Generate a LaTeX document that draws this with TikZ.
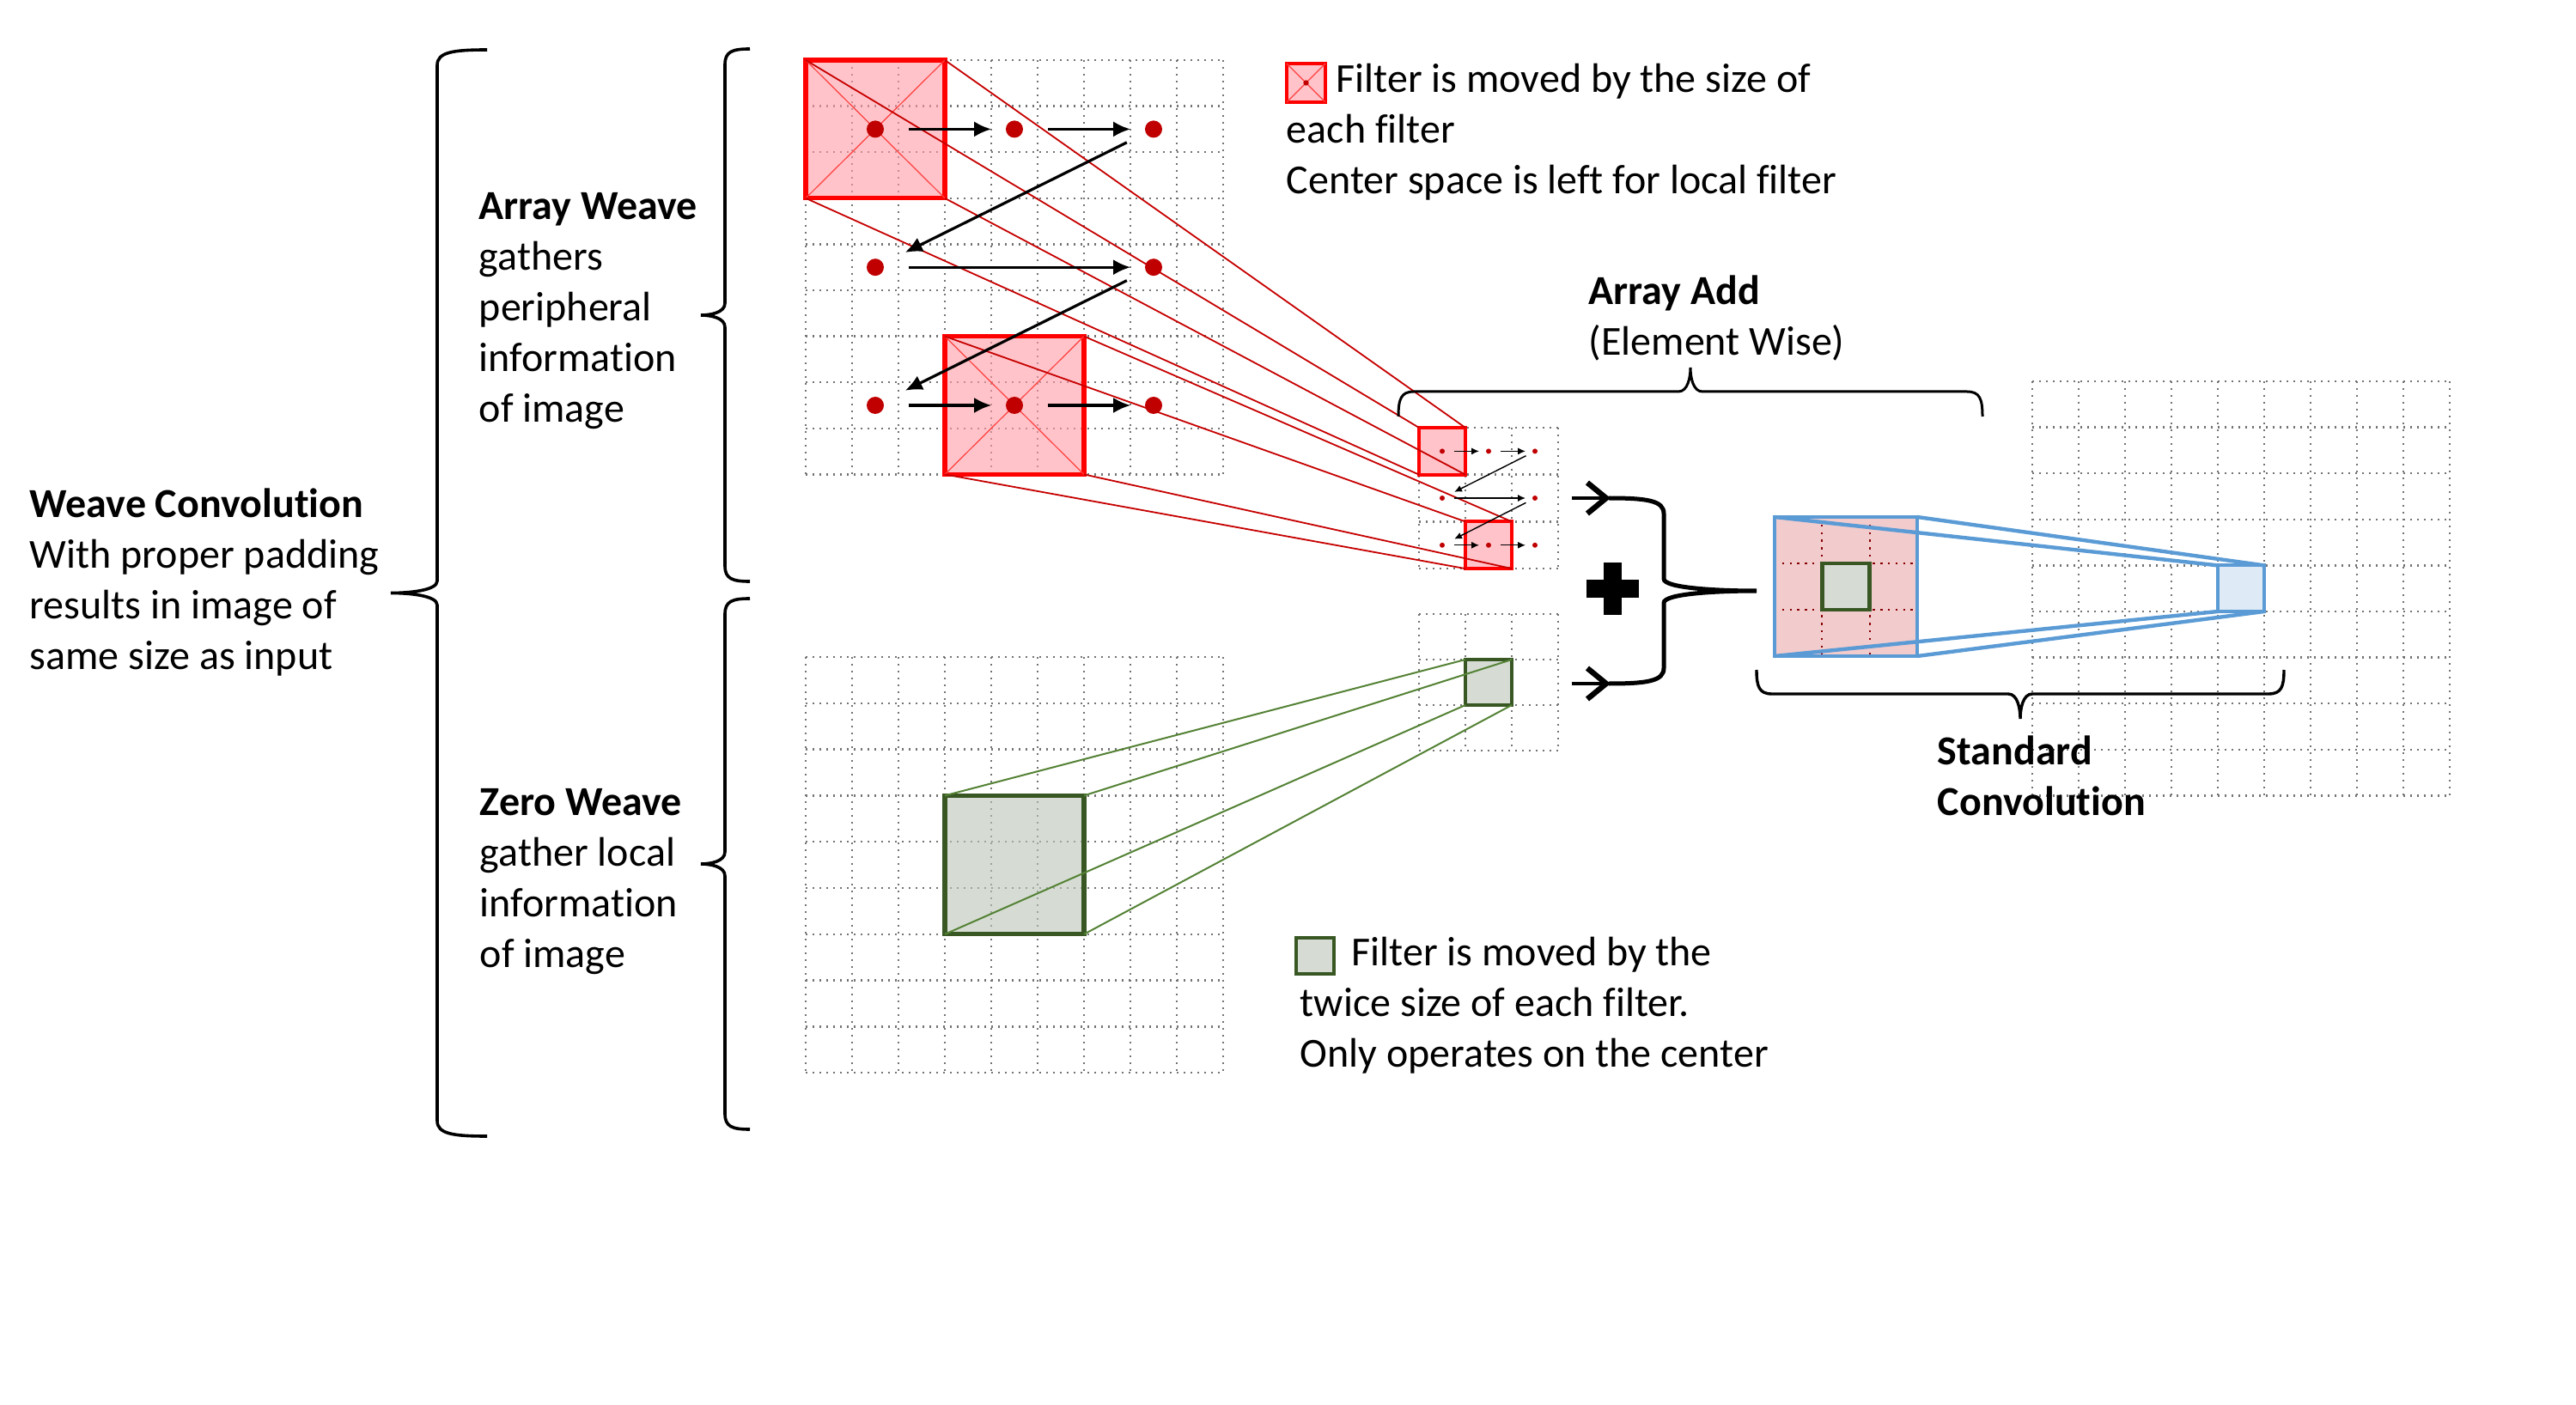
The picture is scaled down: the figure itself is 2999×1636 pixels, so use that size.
\documentclass[tikz,border=0pt]{standalone}
\usepackage{fontspec}
\setmainfont{Carlito}[Ligatures=NoCommon]
\usetikzlibrary{arrows.meta}
\definecolor{dred}{RGB}{192,0,0}
\definecolor{pinkf}{RGB}{255,155,165}
\definecolor{gfillt}{RGB}{187,197,183}
\definecolor{gfill}{RGB}{214,220,212}
\definecolor{gdark}{RGB}{56,87,35}
\definecolor{gline}{RGB}{84,130,53}
\definecolor{bline}{RGB}{91,155,213}
\definecolor{bfill}{RGB}{222,235,247}
\definecolor{pinkr}{RGB}{242,203,205}
\definecolor{gridc}{RGB}{115,115,115}
\newcommand\dotgrid[5]{%
  \foreach \k in {0,...,#5}{%
    \draw[gridline] ({#1+\k*#3},#2) -- ({#1+\k*#3},{#2+#5*#4});
    \draw[gridline] (#1,{#2+\k*#4}) -- ({#1+#5*#3},{#2+\k*#4});
  }}
\newcommand\mybracev[6]{% opts, ytop, ybot, x ends, x line, x tip
  \draw[bracesty,#1] (#4,#2) .. controls ({#5+0.3*(#4-#5)},#2) and (#5,{#2+3}) .. (#5,{#2+18})
    -- (#5,{(#2+#3)/2-14}) .. controls (#5,{(#2+#3)/2-3}) and ({#5+0.6*(#6-#5)},{(#2+#3)/2}) .. (#6,{(#2+#3)/2})
    .. controls ({#5+0.6*(#6-#5)},{(#2+#3)/2}) and (#5,{(#2+#3)/2+3}) .. (#5,{(#2+#3)/2+14})
    -- (#5,{#3-18}) .. controls (#5,{#3-3}) and ({#5+0.3*(#4-#5)},#3) .. (#4,#3);}
\newcommand\mybraceh[6]{% opts, xleft, xright, y ends, y line, y tip
  \draw[bracesty,#1] (#2,#4) .. controls (#2,{#5+0.3*(#4-#5)}) and ({#2+3},#5) .. ({#2+18},#5)
    -- ({(#2+#3)/2-14},#5) .. controls ({(#2+#3)/2-3},#5) and ({(#2+#3)/2},{#5+0.6*(#6-#5)}) .. ({(#2+#3)/2},#6)
    .. controls ({(#2+#3)/2},{#5+0.6*(#6-#5)}) and ({(#2+#3)/2+3},#5) .. ({(#2+#3)/2+14},#5)
    -- ({#3-18},#5) .. controls ({#3-3},#5) and (#3,{#5+0.3*(#4-#5)}) .. (#3,#4);}
\begin{document}
\begin{tikzpicture}[x=0.25pt,y=-0.25pt,
  gridline/.style={draw=gridc, line width=0.6pt, dash pattern=on 0.6pt off 1.4pt},
  innergrid/.style={draw=dred!70!black, line width=0.5pt, dash pattern=on 0.6pt off 1.6pt},
  redfilt/.style={draw=red, line width=1.3pt, fill=pinkf, fill opacity=0.6, anchor=north west, inner sep=0pt, outer sep=0pt},
  greenfilt/.style={draw=gdark, line width=1.3pt, fill=gfillt, fill opacity=0.6, anchor=north west, inner sep=0pt, outer sep=0pt},
  diagred/.style={draw=red!75, line width=0.3pt},
  projred/.style={draw=dred!90!red, line width=0.45pt},
  projgreen/.style={draw=gline, line width=0.5pt},
  projblue/.style={draw=bline, line width=1.1pt},
  dotbig/.style={circle, fill=dred, inner sep=0pt, minimum size=5pt},
  dotsmall/.style={circle, fill=dred, inner sep=0pt, minimum size=1.5pt},
  arrbig/.style={-{Latex[length=5pt,width=4.5pt]}, line width=0.8pt},
  arrsmall/.style={-{Latex[length=2.2pt,width=2pt]}, line width=0.35pt},
  plusarr/.style={-{Straight Barb[length=5.5pt,width=9pt,line width=1.6pt]}, line width=1.2pt},
  bracesty/.style={draw=black, line width=0.9pt},
  txt/.style={anchor=west, align=left, inner sep=0pt, font=\fontsize{12}{14.75}\selectfont}]
\useasboundingbox (0,0) rectangle (2999,1636);

% ---------- grids ----------
\dotgrid{938}{70}{54}{53.6}{9}
\dotgrid{938}{765}{54}{53.8}{9}
\dotgrid{1652}{498}{54}{54.7}{3}
\dotgrid{1652}{715}{54}{53}{3}
\dotgrid{2366}{444}{54}{53.6}{9}

% ---------- array weave filters ----------
\node[redfilt, minimum width=40.5pt, minimum height=40.2pt] (bf1) at (938,70) {};
\node[redfilt, minimum width=40.5pt, minimum height=40.2pt] (bf2) at (1100,391.6) {};
\node[redfilt, line width=1pt, minimum width=13.5pt, minimum height=13.675pt] (sf1) at (1652,498) {};
\node[redfilt, line width=1pt, minimum width=13.5pt, minimum height=13.675pt] (sf2) at (1706,607.4) {};
\foreach \f in {bf1,bf2}{
  \draw[diagred] (\f.north west) -- (\f.south east);
  \draw[diagred] (\f.north east) -- (\f.south west);
}
\foreach \a in {north west,north east,south west,south east}{
  \draw[projred] (bf1.\a) -- (sf1.\a);
  \draw[projred] (bf2.\a) -- (sf2.\a);
}

% big dots and arrows
\node[dotbig] (d11) at (1019,150.4) {};
\node[dotbig] (d14) at (1181,150.4) {};
\node[dotbig] (d17) at (1343,150.4) {};
\node[dotbig] (d41) at (1019,311.2) {};
\node[dotbig] (d47) at (1343,311.2) {};
\node[dotbig] (d71) at (1019,472) {};
\node[dotbig] (d74) at (1181,472) {};
\node[dotbig] (d77) at (1343,472) {};
\draw[arrbig, shorten <=7pt, shorten >=4pt] (d11) -- (d14);
\draw[arrbig, shorten <=7pt, shorten >=4pt] (d14) -- (d17);
\draw[arrbig, shorten <=6pt, shorten >=7pt] (d17) -- (d41);
\draw[arrbig, shorten <=7pt, shorten >=4pt] (d41) -- (d47);
\draw[arrbig, shorten <=6pt, shorten >=7pt] (d47) -- (d71);
\draw[arrbig, shorten <=7pt, shorten >=4pt] (d71) -- (d74);
\draw[arrbig, shorten <=7pt, shorten >=4pt] (d74) -- (d77);

% small dots and arrows
\node[dotsmall] (s11) at (1679,525.4) {};
\node[dotsmall] (s14) at (1733,525.4) {};
\node[dotsmall] (s17) at (1787,525.4) {};
\node[dotsmall] (s41) at (1679,580) {};
\node[dotsmall] (s47) at (1787,580) {};
\node[dotsmall] (s71) at (1679,634.8) {};
\node[dotsmall] (s74) at (1733,634.8) {};
\node[dotsmall] (s77) at (1787,634.8) {};
\draw[arrsmall, shorten <=2.5pt, shorten >=1.8pt] (s11) -- (s14);
\draw[arrsmall, shorten <=2.5pt, shorten >=1.8pt] (s14) -- (s17);
\draw[arrsmall, shorten <=2pt, shorten >=3pt] (s17) -- (s41);
\draw[arrsmall, shorten <=2.5pt, shorten >=1.8pt] (s41) -- (s47);
\draw[arrsmall, shorten <=2pt, shorten >=3pt] (s47) -- (s71);
\draw[arrsmall, shorten <=2.5pt, shorten >=1.8pt] (s71) -- (s74);
\draw[arrsmall, shorten <=2.5pt, shorten >=1.8pt] (s74) -- (s77);

% ---------- zero weave ----------
\node[greenfilt, minimum width=40.5pt, minimum height=40.35pt] (gf) at (1100,926.4) {};
\node[greenfilt, line width=1pt, minimum width=13.5pt, minimum height=13.25pt] (sg) at (1706,768) {};
\foreach \a in {north west,north east,south west,south east}{
  \draw[projgreen] (gf.\a) -- (sg.\a);
}

% ---------- plus and brace ----------
\fill (1847,675) rectangle (1908,696);
\fill (1867,655) rectangle (1888,716);
\coordinate (pa1) at (1830,580);
\coordinate (pb1) at (1875,580);
\coordinate (pa2) at (1830,796);
\coordinate (pb2) at (1875,796);
\draw[plusarr] (pa1) -- (pb1);
\draw[plusarr] (pa2) -- (pb2);
\mybracev{line width=1.25pt}{580}{796}{1873}{1937}{2045}

% ---------- standard convolution ----------
\node[anchor=north west, inner sep=0pt, outer sep=0pt, fill=pinkr, minimum width=41.5pt, minimum height=40.5pt] (pk) at (2066,602) {};
\draw[innergrid] (2121.3,602) -- (2121.3,764);
\draw[innergrid] (2176.7,602) -- (2176.7,764);
\draw[innergrid] (2066,656) -- (2232,656);
\draw[innergrid] (2066,710) -- (2232,710);
\node[anchor=north west, inner sep=0pt, outer sep=0pt, draw=gdark, line width=1.1pt, fill=gfill, minimum width=13.75pt, minimum height=13.5pt] (ig) at (2121.3,656) {};
\draw[draw=bline, line width=1.2pt] (pk.north west) rectangle (pk.south east);
\node[anchor=north west, inner sep=0pt, outer sep=0pt, draw=bline, line width=1pt, fill=bfill, minimum width=13.5pt, minimum height=13.4pt] (bs) at (2582,658.4) {};
\foreach \a in {north west,north east,south west,south east}{
  \draw[projblue] (pk.\a) -- (bs.\a);
}

% ---------- braces ----------
\mybracev{}{58}{1323}{567}{509}{455}
\mybracev{}{57}{677}{873}{844}{816}
\mybracev{}{697}{1315}{873}{844}{816}
\mybraceh{line width=0.75pt}{1628}{2308}{485}{456}{428}
\mybraceh{line width=0.85pt}{2045}{2659}{780}{808}{837}

% ---------- legend icons ----------
\node[redfilt, line width=1pt, minimum width=11.25pt, minimum height=11.25pt] (ri) at (1498,74) {};
\draw[diagred] (ri.north west) -- (ri.south east);
\draw[diagred] (ri.north east) -- (ri.south west);
\node[circle, fill=dred, inner sep=0pt, minimum size=1.6pt] (rid) at (ri.center) {};
\node[greenfilt, line width=1pt, minimum width=11pt, minimum height=10.5pt] (gi) at (1509,1092) {};

% ---------- texts ----------
\node[txt] (wc) at (34,678) {\textbf{Weave Convolution}\\With proper padding\\results in image of\\same size as input};
\node[txt] (aw) at (557,362) {\textbf{Array Weave}\\gathers\\peripheral\\information\\of image};
\node[txt] (zw) at (558,1027) {\textbf{Zero Weave}\\gather local\\information\\of image};
\node[txt] (lg1) at (1497,154) {\hspace*{14.5pt}Filter is moved by the size of\\each filter\\Center space is left for local filter};
\node[txt] (aa) at (1849,370) {\textbf{Array Add}\\(Element Wise)};
\node[txt] (lg2) at (1513,1171) {\hspace*{15pt}Filter is moved by the\\twice size of each filter.\\Only operates on the center};
\node[txt] (sc) at (2255,903) {\textbf{Standard}\\\textbf{Convolution}};
\end{tikzpicture}
\end{document}
